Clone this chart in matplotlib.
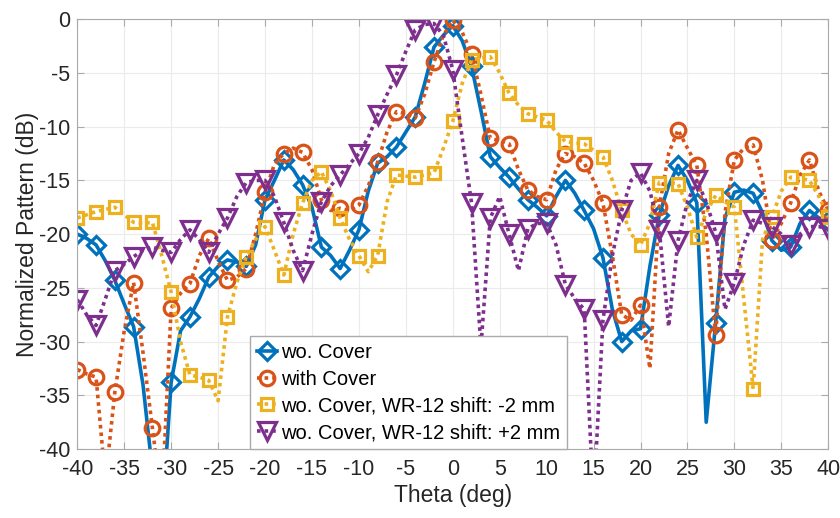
import matplotlib
matplotlib.use('Agg')
import matplotlib.pyplot as plt
import numpy as np

plt.rcParams['font.family'] = ['Liberation Sans', 'DejaVu Sans']
plt.rcParams['axes.unicode_minus'] = False

# angle grid (deg)
theta = np.arange(-40, 41, 1)

wo_cover = [-20, -20.4, -21, -22.5, -24.3, -26.5, -28.6, -34, -42, -47,
            -33.8, -29, -27.7, -26, -24, -23, -22.4, -22.6, -23, -21,
            -16.8, -15, -13.1, -14, -15.4, -17.5, -21.2, -22, -23.2, -21.5,
            -19.6, -16, -13.4, -12.8, -11.9, -10.5, -9.1, -6, -2.6, -1.5,
            -0.6, -2, -4.4, -8.5, -12.8, -13.8, -14.7, -15.8, -16.8, -17.5,
            -18.3, -16.5, -15, -16.2, -17.8, -19.5, -22.2, -27, -30, -29,
            -28.8, -23, -18.2, -15.5, -13.6, -15, -17.1, -37.5, -28.3, -18.5,
            -16.1, -15.9, -16.2, -18, -20.6, -21.5, -21.2, -19, -17.8, -18.5,
            -18.8]

with_cover = [-32.6, -33, -33.3, -43, -34.7, -29, -24.5, -31, -38, -45,
              -26.9, -25.5, -24.6, -22, -20.4, -22.5, -24.3, -24, -23.2, -20,
              -16.1, -13.5, -12.5, -12, -12.4, -14, -16.8, -17.8, -17.6, -17.8,
              -17.3, -15.5, -13.3, -10.5, -8.6, -8.8, -9.2, -7, -4, -1.5,
              -0.1, -1.2, -3.2, -7, -11.1, -11.3, -11.6, -14, -15.9, -16.5,
              -16.8, -14, -12.5, -12.8, -13.4, -15, -17.1, -22, -27.5, -28,
              -26.6, -32.5, -17.5, -12.5, -10.3, -12, -13.6, -20, -29.4, -18,
              -13.1, -12, -11.7, -15, -20.5, -19, -17.1, -14.5, -13.1, -16,
              -17.8]

shift_m2 = [-18.5, -18.2, -17.9, -17.7, -17.5, -18.2, -18.9, -19, -18.9, -22,
            -25.4, -30, -33.1, -33.3, -33.6, -35.5, -27.7, -24.5, -22.1, -20.5,
            -19.3, -21.5, -23.8, -20, -17.1, -15, -14.2, -16, -18.5, -20.5,
            -22, -23.5, -22, -17, -14.5, -14.6, -14.7, -14.5, -14.3, -12,
            -9.5, -6, -3.8, -3.6, -3.5, -5, -6.9, -8, -8.8, -9.1,
            -9.4, -10.5, -11.4, -11.5, -11.6, -12.2, -12.8, -15, -17.8, -20,
            -21, -19, -15.2, -15.2, -15.3, -17.5, -20.3, -18, -16.4, -17,
            -17.5, -26, -34.4, -20.5, -18.4, -16, -14.7, -14.8, -15, -16.5,
            -18.4]

shift_p2 = [-26.1, -27.5, -28.5, -26, -23.4, -22.8, -22.1, -21.5, -21.2, -21.5,
            -21.7, -20.5, -19.6, -20.5, -21.7, -20, -18.5, -16.5, -15.2, -15,
            -15, -16.5, -18.9, -21.5, -23.4, -20, -17, -15.5, -14.5, -13.5,
            -12.5, -11, -8.9, -7, -5.2, -3, -1, -0.5, -0.4, -1.5,
            -4.7, -11, -17.1, -30.5, -18.5, -16.5, -20, -23.4, -19.5, -19,
            -19, -21, -24.7, -26, -27, -45, -28, -22, -17.8, -15,
            -14.3, -16, -19.6, -28.6, -20.6, -17, -15, -17, -19.8, -27,
            -24.5, -21, -18.7, -19, -19.3, -20, -21, -20, -19.3, -19.3,
            -19.5]

labels = ['wo. Cover', 'with Cover',
          'wo. Cover, WR-12 shift: -2 mm', 'wo. Cover, WR-12 shift: +2 mm']

fig, ax = plt.subplots(figsize=(8.4, 5.18), dpi=100)
fig.subplots_adjust(left=0.092, right=0.986, top=0.963, bottom=0.133)

dot = (0, (1, 1.1))
ax.plot(theta, wo_cover, '-', color='#0072BD', lw=2.6, marker='D', ms=9,
        mfc='none', mew=2.3, markevery=2, label=labels[0])
ax.plot(theta, with_cover, linestyle=dot, color='#D95319', lw=2.6, marker='o', ms=10.5,
        mfc='none', mew=2.3, markevery=2, label=labels[1])
ax.plot(theta, shift_m2, linestyle=dot, color='#EDB120', lw=2.6, marker='s', ms=9,
        mfc='none', mew=2.3, markevery=2, label=labels[2])
ax.plot(theta, shift_p2, linestyle=dot, color='#7E2F8E', lw=2.6, marker='v', ms=12.5,
        mfc='none', mew=2.3, markevery=2, label=labels[3])

ax.set_xlim(-40, 40)
ax.set_ylim(-40, 0)
ax.set_xticks(np.arange(-40, 41, 5))
ax.set_yticks(np.arange(-40, 1, 5))
ax.grid(True, color='#ebebeb', lw=0.8)
ax.set_axisbelow(True)
ax.tick_params(direction='in', top=True, right=True, length=5, color='#aaaaaa',
               labelsize=15.5, labelcolor='#262626')
ax.tick_params(axis='x', pad=7)
ax.tick_params(axis='y', pad=5)
for s in ax.spines.values():
    s.set_color('#aaaaaa')
ax.set_xlabel('Theta (deg)', fontsize=16.5, color='#262626', labelpad=3)
ax.set_ylabel('Normalized Pattern (dB)', fontsize=16.5, color='#262626', labelpad=0)

leg = ax.legend(loc='lower left', bbox_to_anchor=(0.23, 0.0), borderaxespad=0,
                fontsize=14.5, fancybox=False, framealpha=1, edgecolor='#aaaaaa',
                handlelength=1.0, handletextpad=0.2, labelspacing=0.38,
                borderpad=0.35)

plt.savefig('out.png', dpi=100)
